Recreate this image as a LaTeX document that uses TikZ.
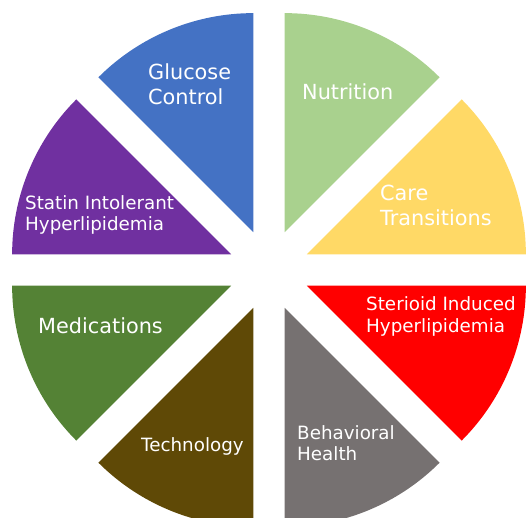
\documentclass[tikz,border=0pt]{standalone}
\usepackage{fontspec}
\setmainfont{DejaVu Sans}
\definecolor{careyellow}{HTML}{FFD966}
\definecolor{nutrigreen}{HTML}{A9D18E}
\definecolor{glucoseblue}{HTML}{4472C4}
\definecolor{statinpurple}{HTML}{7030A0}
\definecolor{medgreen}{HTML}{548235}
\definecolor{techbrown}{HTML}{5F4906}
\definecolor{behavgray}{HTML}{767171}
\definecolor{steroidred}{HTML}{FF0000}
\tikzset{
    biglabel/.style={text=white, inner sep=0pt, anchor=base west, align=left,
        font=\fontsize{20.8}{25}\selectfont},
    smalllabel/.style={text=white, inner sep=0pt, anchor=base west, align=left,
        font=\fontsize{18.3}{21.7}\selectfont}
}
\begin{document}
\begin{tikzpicture}[x=1pt, y=1pt]
            \useasboundingbox (-269,-248) rectangle (263,270);
            \clip (-269,-248) rectangle (263,270);

            % exploded pie, radius 219, pushed out 41 along each bisector
            \foreach \a/\col in {0/careyellow, 45/nutrigreen, 90/glucoseblue, 135/statinpurple,
                                 180/medgreen, 225/techbrown, 270/behavgray, 315/steroidred}
                \fill[\col] (\a+22.5:41) -- ++(\a:219) arc[start angle=\a, end angle=\a+45, radius=219] -- cycle;

            % base of a two-line label is its last line
            \node[biglabel] (glucose) at (-121, 165.7) {Glucose\\Control};
            \node[biglabel] (nutrition) at (33, 170.7) {Nutrition};
            \node[biglabel] (care) at (111, 44.3) {Care\\Transitions};
            \node[smalllabel] (statin) at (-244, 39) {Statin Intolerant\\Hyperlipidemia};
            \node[biglabel] (meds) at (-231, -64) {Medications};
            \node[smalllabel] (steroid) at (97, -62.7) {Sterioid Induced\\Hyperlipidemia};
            \node[smalllabel] (tech) at (-128, -182) {Technology};
            \node[smalllabel] (behav) at (28, -191) {Behavioral\\Health};
        \end{tikzpicture}
\end{document}
